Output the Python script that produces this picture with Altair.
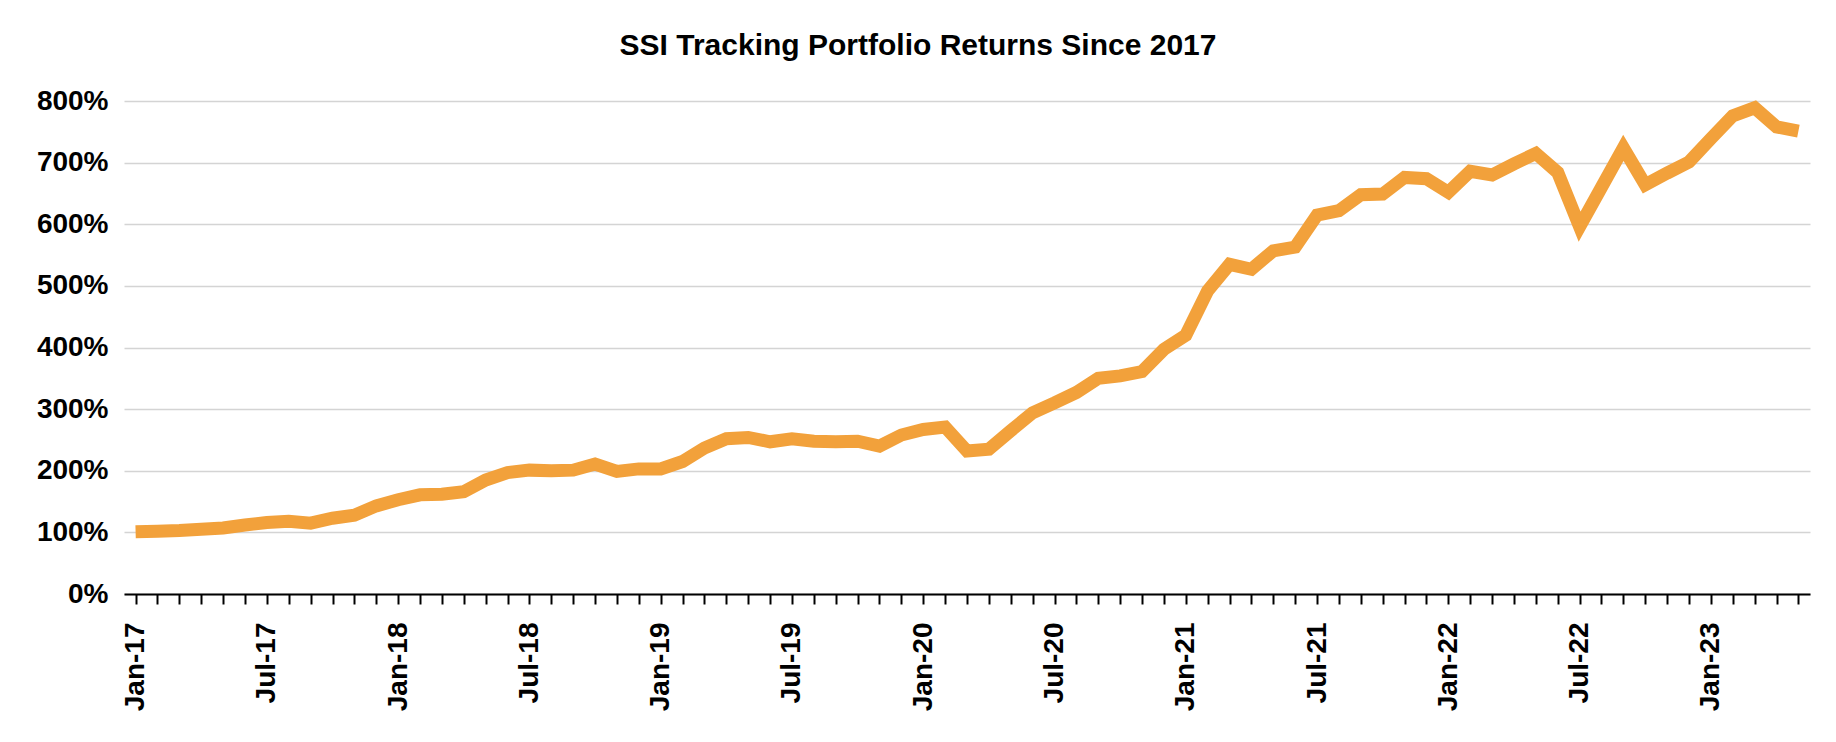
import altair as alt
import pandas as pd

# Monthly category labels (Jan-17 .. May-23)
months = pd.date_range("2017-01-01", periods=77, freq="MS").strftime("%b-%y").tolist()

# Portfolio value in percent
returns_pct = [
    101, 102, 103, 105, 107, 112, 116, 118, 115, 123, 128, 143,   # 2017
    153, 161, 162, 166, 185, 197, 201, 200, 201, 211, 199, 203,   # 2018
    203, 215, 237, 252, 254, 247, 252, 248, 247, 248, 240, 258,   # 2019
    267, 271, 232, 235, 265, 294, 310, 327, 350, 354, 361, 397,   # 2020
    420, 492, 535, 527, 557, 563, 615, 622, 648, 649, 676, 674,   # 2021
    652, 686, 680, 698, 715, 684, 596, 660, 724, 664, 683, 701,   # 2022
    739, 776, 789, 758, 751,                                       # 2023
]

y_ticks = [0, 100, 200, 300, 400, 500, 600, 700, 800]
title_text = ["SSI Tracking Portfolio Returns Since 2017"]

df = pd.DataFrame({"month": months, "ret": returns_pct})
title_df = pd.DataFrame({"t": title_text})

FONT = "Liberation Sans"

line = alt.Chart(df).mark_line(
    color="#F2A13B", strokeWidth=13, strokeJoin="miter", strokeMiterLimit=10
).encode(
    x=alt.X(
        "month:O",
        sort=months,
        scale=alt.Scale(type="point", padding=0.53),
        axis=alt.Axis(
            title=None,
            labelAngle=-90,
            labelExpr="(slice(datum.value,0,3)=='Jan' || slice(datum.value,0,3)=='Jul') ? datum.value : ''",
            labelOverlap=False,
            labelFont=FONT,
            labelFontSize=28,
            labelFontWeight="bold",
            labelColor="black",
            labelPadding=18,
            domainColor="black",
            domainWidth=2,
            tickColor="black",
            tickWidth=2,
            tickSize=10,
            grid=False,
        ),
    ),
    y=alt.Y(
        "ret:Q",
        scale=alt.Scale(domain=[0, 800]),
        axis=alt.Axis(
            title=None,
            values=y_ticks,
            labelExpr="datum.value + '%'",
            labelFont=FONT,
            labelFontSize=28,
            labelFontWeight="bold",
            labelColor="black",
            labelPadding=16,
            domain=False,
            ticks=False,
            grid=True,
            gridColor="#d4d4d4",
            gridWidth=1.5,
        ),
    ),
)

title = alt.Chart(title_df).mark_text(
    font=FONT, fontSize=30, fontWeight="bold", color="black",
    align="center", baseline="alphabetic",
).encode(
    text="t:N",
    x=alt.value(794),
    y=alt.value(-46),
)

chart = alt.layer(line, title).properties(
    width=1686,
    height=493,
    autosize=alt.AutoSizeParams(type="none"),
    padding={"left": 116, "top": 93, "right": 18, "bottom": 130},
    background="white",
).configure_view(stroke=None)

chart.save("out.html", embed_options={"renderer": "svg", "actions": False})
